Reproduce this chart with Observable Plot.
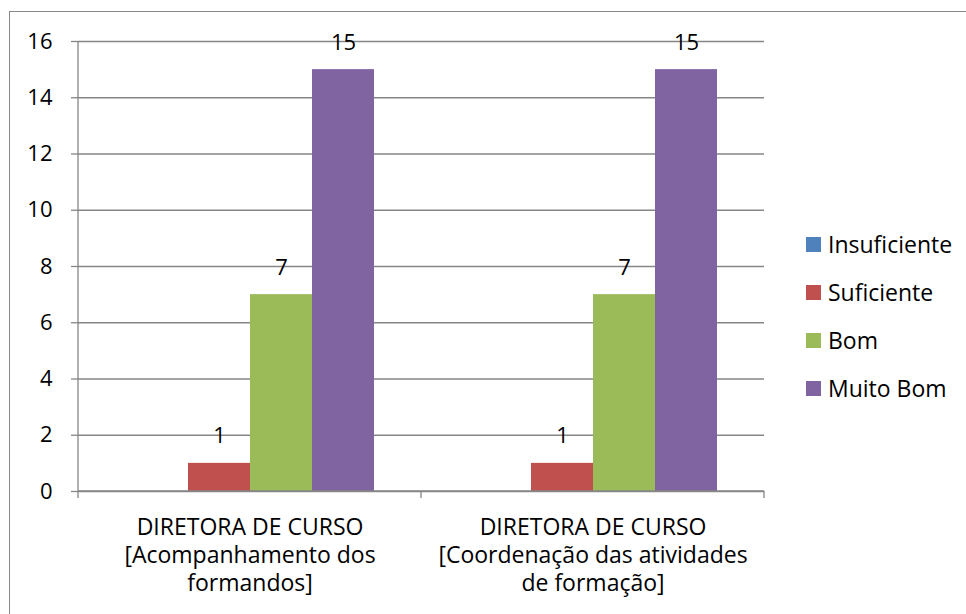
<!DOCTYPE html>
<html>
<head>
<meta charset="utf-8">
<script src="https://cdn.jsdelivr.net/npm/d3@7"></script>
<script src="https://cdn.jsdelivr.net/npm/@observablehq/plot@0.6"></script>
<style>
  html, body { margin: 0; padding: 0; background: #fff; }
  #wrap { position: relative; width: 966px; height: 614px; overflow: hidden; font-family: "Open Sans", sans-serif; }
  #border { position: absolute; left: 9px; top: 11px; width: 970px; height: 620px; border: 1.5px solid #898989; box-sizing: border-box; }
  #legend { position: absolute; left: 806px; top: 220px; font-size: 23px; color: #000; }
  .item { display: flex; align-items: center; height: 48px; }
  .sw { width: 15px; height: 15px; margin-right: 7px; }
</style>
</head>
<body>
<div id="wrap">
  <div id="border"></div>
  <div id="chart"></div>
  <div id="legend"></div>
</div>
<script>
const categories = [
  "DIRETORA DE CURSO\n[Acompanhamento dos\nformandos]",
  "DIRETORA DE CURSO\n[Coordenação das atividades\nde formação]"
];
const seriesNames = ["Insuficiente", "Suficiente", "Bom", "Muito Bom"];
const colors = ["#4F81BD", "#C0504D", "#9BBB59", "#8064A2"];
const insuficiente = [0, 0];
const suficiente = [1, 1];
const bom = [7, 7];
const muitoBom = [15, 15];
const yTicks = [0, 2, 4, 6, 8, 10, 12, 14, 16];

const seriesValues = [insuficiente, suficiente, bom, muitoBom];
const data = [];
categories.forEach((c, i) => {
  seriesNames.forEach((s, j) => data.push({cat: c, series: s, value: seriesValues[j][i]}));
});

const gray = "#868686";
const plot = Plot.plot({
  width: 966,
  height: 614,
  marginLeft: 78,
  marginRight: 202,
  marginTop: 41,
  marginBottom: 123,
  style: {fontFamily: "Open Sans, sans-serif", fontSize: "22px", color: "#000", background: "transparent"},
  fx: {domain: categories, padding: 0, label: null},
  x: {domain: seriesNames, paddingInner: 0, paddingOuter: 0.75, axis: null},
  y: {domain: [0, 16], label: null},
  color: {domain: seriesNames, range: colors},
  marks: [
    Plot.gridY(yTicks, {stroke: gray, strokeOpacity: 1, strokeWidth: 1.3}),
    Plot.axisY(yTicks, {tickSize: 7, tickPadding: 19, stroke: gray, strokeWidth: 1.3, fontSize: 22, label: null}),
    Plot.axisFx({anchor: "bottom", tickSize: 0, tickPadding: 23, lineHeight: 1.23, fontSize: 23, label: null, tickFormat: d => d}),
    Plot.barY(data, {fx: "cat", x: "series", y: "value", fill: "series"}),
    Plot.text(data.filter(d => d.value > 0), {fx: "cat", x: "series", y: "value", text: d => String(d.value), lineAnchor: "bottom", dy: -20, fontSize: 22, fill: "#000"})
  ]
});
document.getElementById("chart").appendChild(plot);

// y-axis line and category boundary ticks, derived from the plot's scales
const fx = plot.scale("fx");
const y = plot.scale("y");
const svg = d3.select(plot);
const bw = fx.bandwidth;
const xs = categories.map(c => fx.apply(c));
const left = xs[0], right = xs[xs.length - 1] + bw;
const y0 = y.apply(0), yTop = y.apply(16);
svg.append("line").attr("x1", left).attr("x2", left).attr("y1", yTop).attr("y2", y0)
  .attr("stroke", gray).attr("stroke-width", 1.3);
svg.append("line").attr("x1", left).attr("x2", right).attr("y1", y0).attr("y2", y0)
  .attr("stroke", gray).attr("stroke-width", 1.3);
[...xs, right].forEach(x => {
  svg.append("line").attr("x1", x).attr("x2", x).attr("y1", y0).attr("y2", y0 + 7)
    .attr("stroke", gray).attr("stroke-width", 1.3);
});

const legend = d3.select("#legend");
seriesNames.forEach((s, i) => {
  const it = legend.append("div").attr("class", "item");
  it.append("div").attr("class", "sw").style("background", colors[i]);
  it.append("span").text(s);
});
</script>
</body>
</html>
